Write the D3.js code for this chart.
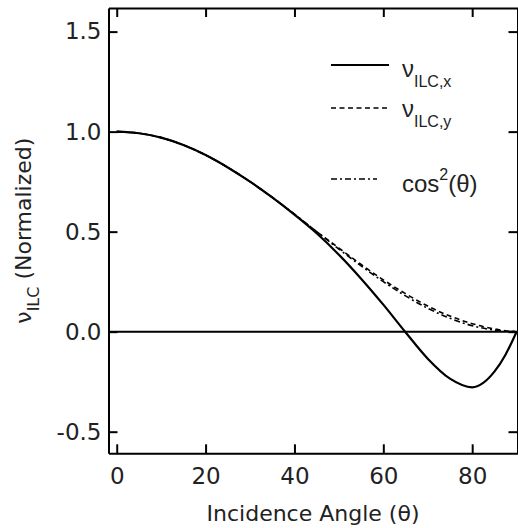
<!DOCTYPE html>
<html>
<head>
<meta charset="utf-8">
<script src="https://cdn.jsdelivr.net/npm/d3@7"></script>
<style>
  body { margin: 0; background: #fff; }
  svg { display: block; }
</style>
</head>
<body>
<script>
// values (angle in degrees)
const angles = [0, 5, 10, 15, 20, 25, 30, 35, 40, 45, 50, 55, 60, 65, 70, 75, 80, 85, 87.5, 90];
const vILCx  = [1, 0.992, 0.970, 0.933, 0.883, 0.821, 0.750, 0.671, 0.585, 0.492, 0.385, 0.265, 0.135, -0.003, -0.135, -0.235, -0.278, -0.200, -0.115, 0];
const vILCy  = [1, 0.992, 0.970, 0.933, 0.883, 0.821, 0.750, 0.671, 0.587, 0.500, 0.418, 0.336, 0.259, 0.190, 0.128, 0.078, 0.040, 0.014, 0.005, 0];
const cosSq  = [1, 0.992, 0.970, 0.933, 0.883, 0.821, 0.750, 0.671, 0.587, 0.500, 0.413, 0.329, 0.250, 0.179, 0.117, 0.067, 0.030, 0.008, 0.002, 0];

const xTicks = [0, 20, 40, 60, 80];
const yTicks = [-0.5, 0.0, 0.5, 1.0, 1.5];

const W = 518, H = 528;
const plotL = 108.5, plotR = 517.5, plotT = 8, plotB = 453.3;

const svg = d3.select("body").append("svg")
    .attr("width", W)
    .attr("height", H);

const x = d3.scaleLinear().domain([-1.85, 90.2]).range([plotL, plotR]);
const y = d3.scaleLinear().domain([-0.608, 1.618]).range([plotB, plotT]);

const tickFont = "'DejaVu Sans', sans-serif";

// axes, ticks pointing inward
const gx = svg.append("g")
    .attr("transform", `translate(0,${plotB})`)
    .call(d3.axisBottom(x).tickValues(xTicks).tickFormat(d3.format("d"))
        .tickSizeInner(-9).tickSizeOuter(0).tickPadding(14));
const gy = svg.append("g")
    .attr("transform", `translate(${plotL},0)`)
    .call(d3.axisLeft(y).tickValues(yTicks).tickFormat(d => d.toFixed(1))
        .tickSizeInner(-9).tickSizeOuter(0).tickPadding(7));
const gt = svg.append("g")
    .attr("transform", `translate(0,${plotT})`)
    .call(d3.axisTop(x).tickValues(xTicks).tickFormat("")
        .tickSizeInner(-9).tickSizeOuter(0));
const gr = svg.append("g")
    .attr("transform", `translate(${plotR},0)`)
    .call(d3.axisRight(y).tickValues(yTicks).tickFormat("")
        .tickSizeInner(-9).tickSizeOuter(0));

[gx, gy, gt, gr].forEach(g => {
    g.selectAll("path, line").attr("stroke", "#000").attr("stroke-width", 2);
    g.selectAll("text")
        .attr("fill", "#222")
        .style("font-family", tickFont)
        .style("font-size", "23px");
});

// zero line
svg.append("line")
    .attr("x1", plotL).attr("x2", plotR)
    .attr("y1", y(0)).attr("y2", y(0))
    .attr("stroke", "#000").attr("stroke-width", 2);

// curves
const series = [
    {vals: vILCy, dash: "5,3.5", width: 1.6},
    {vals: cosSq, dash: "6,3,2,3", width: 1.6},
    {vals: vILCx, dash: null, width: 2.2}
];
const line = d3.line()
    .x(d => x(d[0]))
    .y(d => y(d[1]))
    .curve(d3.curveMonotoneX);

series.forEach(s => {
    svg.append("path")
        .datum(angles.map((a, i) => [a, s.vals[i]]))
        .attr("d", line)
        .attr("fill", "none")
        .attr("stroke", "#000")
        .attr("stroke-width", s.width)
        .attr("stroke-dasharray", s.dash);
});

// axis titles
svg.append("text")
    .attr("x", (plotL + plotR) / 2)
    .attr("y", 521)
    .attr("text-anchor", "middle")
    .style("font-family", tickFont)
    .style("font-size", "22px")
    .attr("fill", "#222")
    .text("Incidence Angle (θ)");

const yt = svg.append("text")
    .attr("transform", `translate(31,${(plotT + plotB) / 2}) rotate(-90)`)
    .attr("text-anchor", "middle")
    .style("font-family", tickFont)
    .style("font-size", "22px")
    .attr("fill", "#222");
yt.append("tspan").text("ν");
yt.append("tspan").attr("dy", 8).style("font-size", "16px").text("ILC");
yt.append("tspan").attr("dy", -8).text(" (Normalized)");

// legend
const legFont = "'Liberation Sans', Arial, sans-serif";
const legend = [
    {y: 65, x2: 389, dash: null, w: 2, base: 77, sub: "ILC,x"},
    {y: 108, x2: 389, dash: "5,3.5", w: 1.6, base: 117, sub: "ILC,y"}
];
legend.forEach(l => {
    svg.append("line")
        .attr("x1", 331).attr("x2", l.x2)
        .attr("y1", l.y).attr("y2", l.y)
        .attr("stroke", "#000").attr("stroke-width", l.w)
        .attr("stroke-dasharray", l.dash);
    const t = svg.append("text")
        .attr("x", 402).attr("y", l.base)
        .style("font-family", legFont)
        .style("font-size", "24px")
        .attr("fill", "#222");
    t.append("tspan").text("ν");
    t.append("tspan").attr("dy", 10).style("font-size", "16px").text(l.sub);
});

svg.append("line")
    .attr("x1", 331).attr("x2", 377)
    .attr("y1", 179).attr("y2", 179)
    .attr("stroke", "#000").attr("stroke-width", 1.6)
    .attr("stroke-dasharray", "6,3,2,3");
const ct = svg.append("text")
    .attr("x", 402).attr("y", 192)
    .style("font-family", legFont)
    .style("font-size", "24px")
    .attr("fill", "#222");
ct.append("tspan").text("cos");
ct.append("tspan").attr("dy", -12).style("font-size", "16px").text("2");
ct.append("tspan").attr("dy", 12).text("(θ)");
</script>
</body>
</html>
